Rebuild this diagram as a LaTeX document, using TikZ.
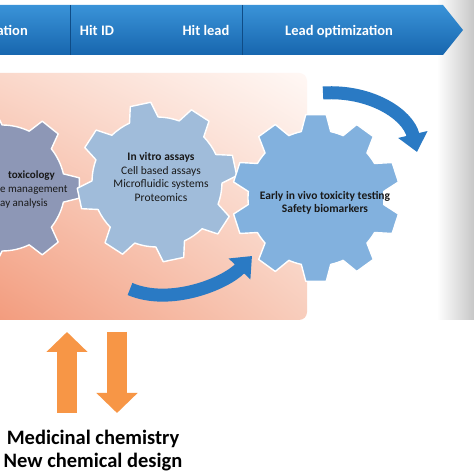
\documentclass[tikz,border=0pt]{standalone}
\usepackage{fontspec}
\setmainfont{Carlito}
\usetikzlibrary{arrows.meta,shadings}
\definecolor{bannerTop}{HTML}{3A93D8}
\definecolor{bannerBot}{HTML}{1766AE}
\definecolor{bannerLine}{HTML}{0F4C86}
\definecolor{gearA}{HTML}{8D97B6}
\definecolor{gearB}{HTML}{A0BCDA}
\definecolor{gearC}{HTML}{82B1DE}
\definecolor{flowblue}{HTML}{2A7AC4}
\definecolor{orangeArr}{HTML}{F79646}
\definecolor{bgLL}{HTML}{F2997A}
\definecolor{bgUL}{HTML}{FAD6C8}
\definecolor{bgLR}{HTML}{F8CDBC}
\definecolor{bgUR}{HTML}{FFF8F5}
\newcommand\mygear[8]{% style, center, teeth, r, R, start angle, base half-angle, top half-angle
  \pgfmathsetmacro\gp{360/#3}
  \draw[#1, shift={#2}] ({#6-#7}:#4pt)
    \foreach \k in {1,...,#3}{
      -- ({#6+(\k-1)*\gp-#8}:#5pt) -- ({#6+(\k-1)*\gp+#8}:#5pt)
      -- ({#6+(\k-1)*\gp+#7}:#4pt)
      arc[start angle={#6+(\k-1)*\gp+#7}, end angle={#6+\k*\gp-#7}, radius=#4pt]
    } -- cycle;
}
\tikzset{
  gearline/.style={draw=white, line width=1.4pt, line join=round},
  bannertext/.style={text=white, font=\bfseries\fontsize{14.5}{17}\selectfont, anchor=base, inner sep=0pt},
  geartext/.style={text=black!90, font=\fontsize{11.5}{13.8}\selectfont, align=center, inner sep=0pt},
  leftgeartext/.style={text=black!90, font=\fontsize{11}{13}\selectfont, anchor=base west, inner sep=0pt},
  flowarrow/.style={draw=flowblue, line width=13pt, -{Triangle[width=29pt,length=18pt]}},
  orangearrow/.style={draw=orangeArr, line width=20pt, -{Triangle[width=40pt,length=20pt]}},
  bigtext/.style={font=\bfseries\fontsize{20.5}{24}\selectfont, anchor=base, inner sep=0pt, text=black}
}
\begin{document}
\begin{tikzpicture}[x=1pt,y=1pt]
\useasboundingbox (0,0) rectangle (474,474);
\fill[white] (0,0) rectangle (474,474);
\clip (0,0) rectangle (474,474);
% grey strip on the right
\shade[left color=white, right color=black!22] (437,154) rectangle (474,474);
% orange background panel
\shade[rounded corners=8pt, lower left=bgLL, upper left=bgUL, lower right=bgLR, upper right=bgUR] (-20,154) rectangle (307,401);
% banner
\shade[top color=bannerTop, bottom color=bannerBot] (-5,419) -- (443,419) -- (463,444) -- (443,469) -- (-5,469) -- cycle;
\draw[bannerLine, line width=1pt] (70,419) -- (70,469);
\draw[bannerLine, line width=1pt] (242,419) -- (242,469);
\node[bannertext, anchor=base east] (b0) at (28,438) {ation};
\node[bannertext] (b1) at (97,438) {Hit ID};
\node[bannertext] (b2) at (206,438) {Hit lead};
\node[bannertext] (b3) at (339,438) {Lead optimization};
% gears
\mygear{gearline, fill=gearA}{(2,286)}{7}{63}{78}{0}{13}{7.5}
\mygear{gearline, fill=gearB}{(157,292)}{8}{65}{80}{102}{13}{7.5}
\mygear{gearline, fill=gearC}{(316,276)}{10}{68}{84}{90}{12.5}{7}
% gear texts
\node[leftgeartext, font=\bfseries\fontsize{11}{13}\selectfont] (t1) at (8,295) {toxicology};
\node[leftgeartext] (t2) at (0,281) {e management};
\node[leftgeartext] (t3) at (0,267) {ay analysis};
\node[geartext] (g2) at (161,297) {\textbf{In vitro assays}\\Cell based assays\\Microfluidic systems\\Proteomics};
\node[geartext, font=\bfseries\fontsize{11.5}{13}\selectfont] (g3) at (325,271) {Early in vivo toxicity testing\\Safety biomarkers};
% blue flow arrows
\coordinate (a1s) at (130,185);
\coordinate (a1e) at (252,218);
\coordinate (a2s) at (323,381);
\coordinate (a2e) at (417,322);
\draw[flowarrow] (a1s) .. controls (170,168) and (225,190) .. (a1e);
\draw[flowarrow] (a2s) .. controls (370,384) and (408,360) .. (a2e);
% orange arrows
\coordinate (u1) at (67,61);
\coordinate (u2) at (67,142);
\coordinate (d1) at (117,142);
\coordinate (d2) at (117,61);
\draw[orangearrow] (u1) -- (u2);
\draw[orangearrow] (d1) -- (d2);
% bottom text
\node[bigtext] (m1) at (93,29) {Medicinal chemistry};
\node[bigtext] (m2) at (93,6) {New chemical design};
\end{tikzpicture}
\end{document}
